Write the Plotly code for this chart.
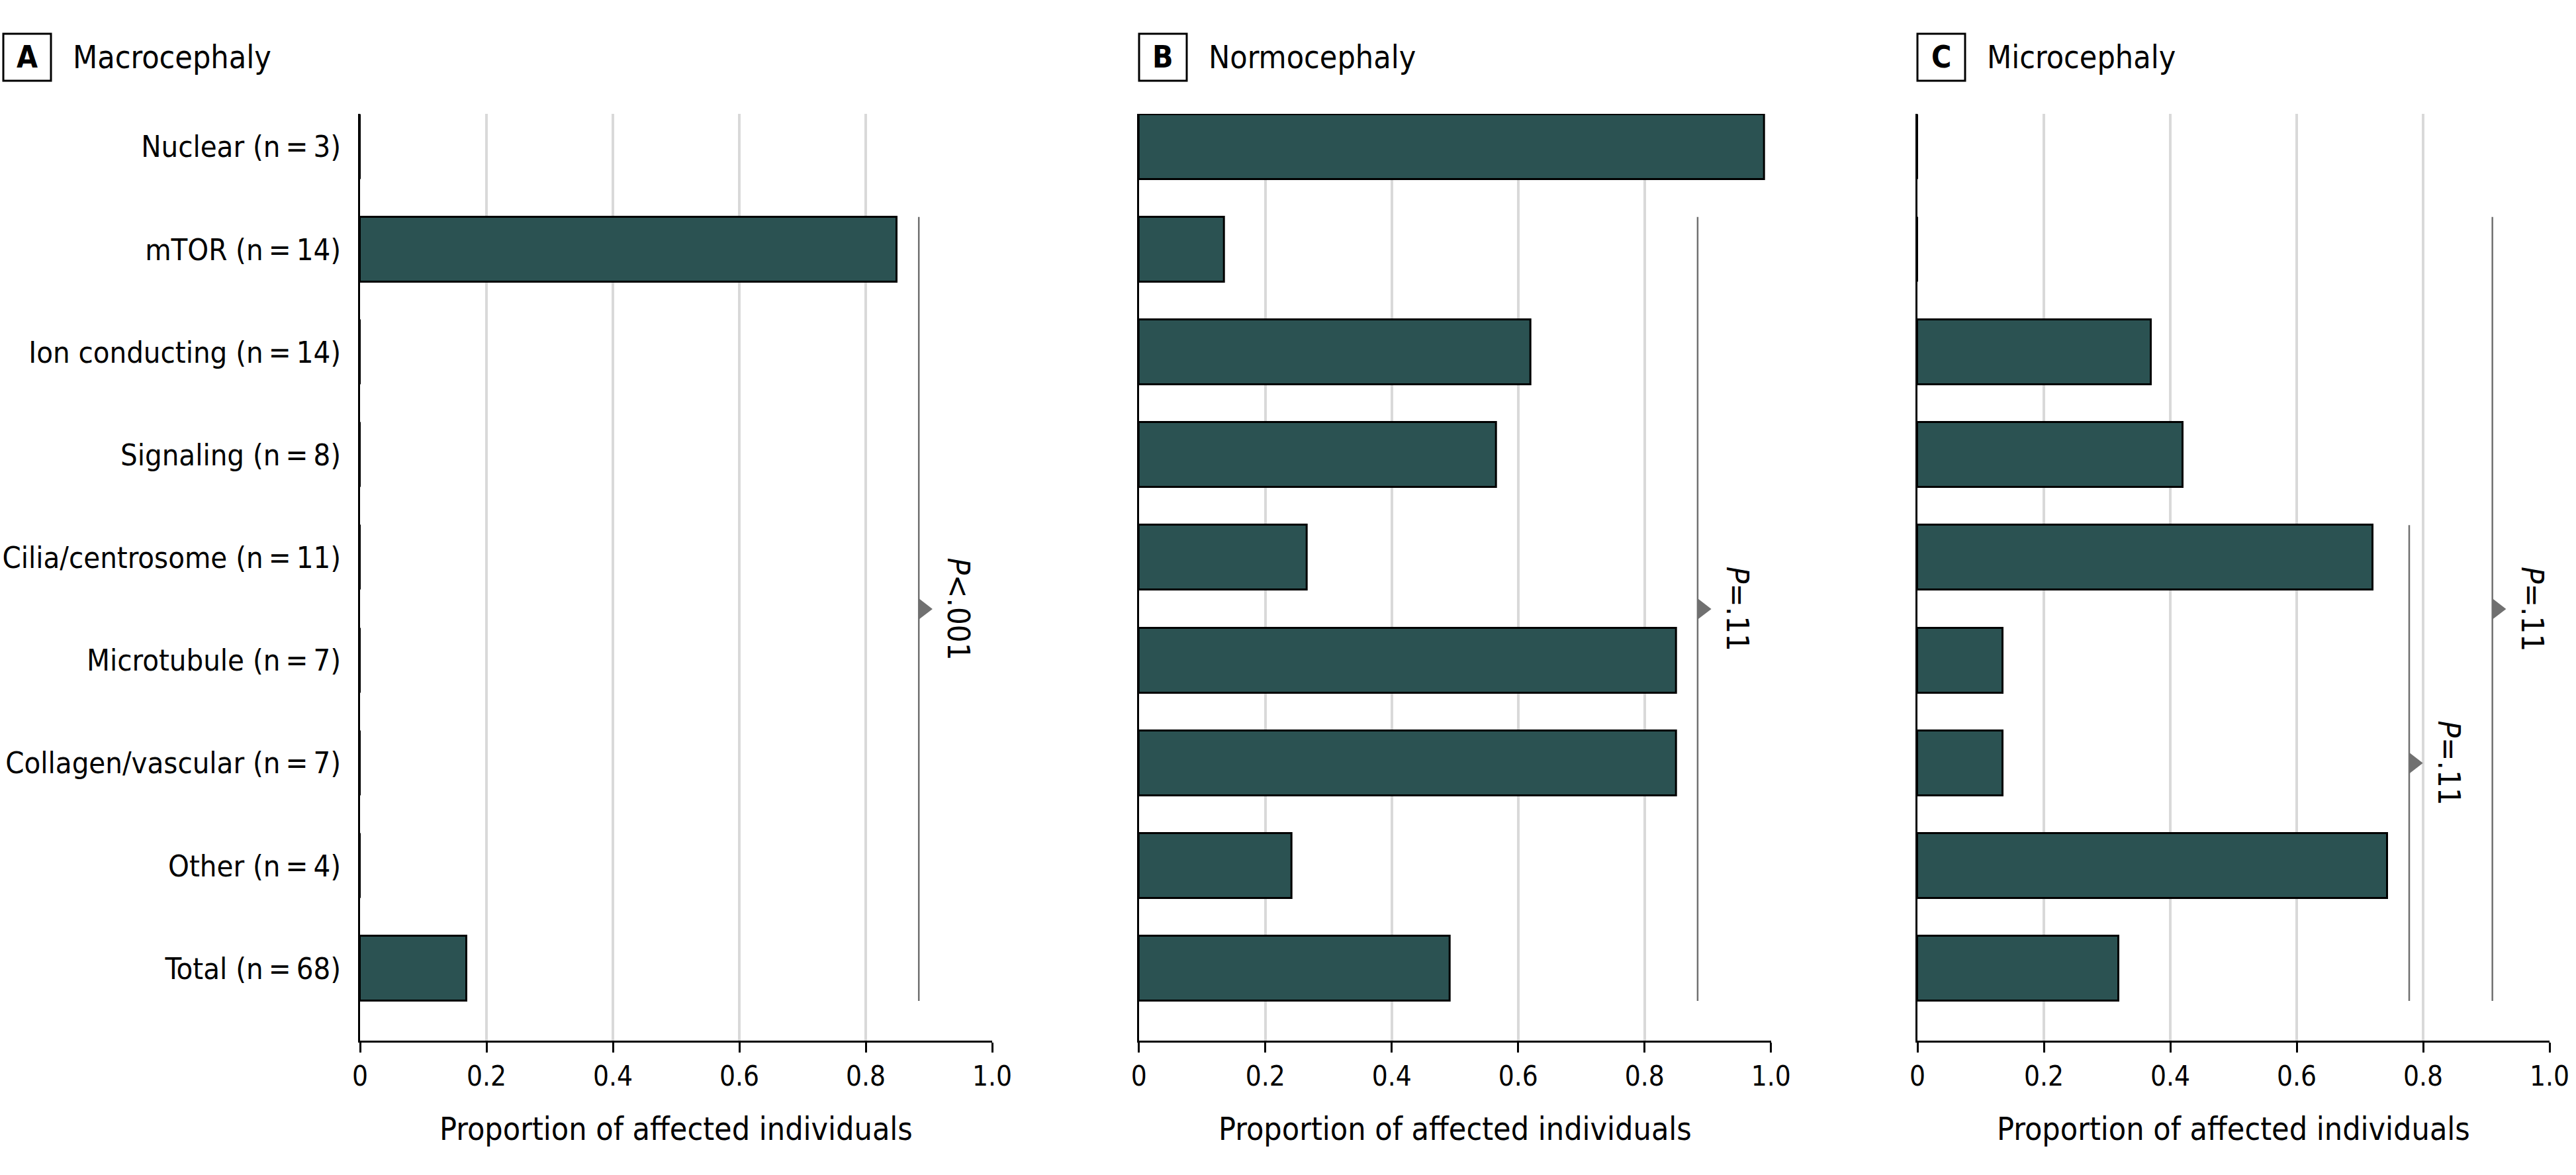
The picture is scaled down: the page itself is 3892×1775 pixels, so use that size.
import plotly.graph_objects as go

# ---------------- data ----------------
categories = [
    "Nuclear (n\u2009=\u20093)",
    "mTOR (n\u2009=\u200914)",
    "Ion conducting (n\u2009=\u200914)",
    "Signaling (n\u2009=\u20098)",
    "Cilia/centrosome (n\u2009=\u200911)",
    "Microtubule (n\u2009=\u20097)",
    "Collagen/vascular (n\u2009=\u20097)",
    "Other (n\u2009=\u20094)",
    "Total (n\u2009=\u200968)",
]
macrocephaly = [0, 0.849, 0, 0, 0, 0, 0, 0, 0.169]
normocephaly = [0.99, 0.135, 0.62, 0.565, 0.266, 0.85, 0.85, 0.242, 0.492]
microcephaly = [0, 0, 0.37, 0.42, 0.72, 0.135, 0.135, 0.743, 0.318]

panel_letters = ["A", "B", "C"]
panel_titles = ["Macrocephaly", "Normocephaly", "Microcephaly"]
panel_values = [macrocephaly, normocephaly, microcephaly]

x_tick_vals = [0, 0.2, 0.4, 0.6, 0.8, 1.0]
x_tick_text = ["0", "0.2", "0.4", "0.6", "0.8", "1.0"]
x_title = "Proportion of affected individuals"

# P-value brackets: panel index, x position, first row, last row, label
bracket_panel = [0, 1, 2, 2]
bracket_x = [0.884, 0.884, 0.9096, 0.778]
bracket_first = [1, 1, 1, 4]
bracket_last = [8, 8, 8, 8]
bracket_label = ["<i>P</i>&lt;.001", "<i>P</i>=.11", "<i>P</i>=.11", "<i>P</i>=.11"]

# ---------------- style ----------------
W, H = 3892, 1775
FONT = "DejaVu Sans Condensed, DejaVu Sans, sans-serif"
BAR_FILL = "#2b5252"
GRID = "#d9d9d9"
BRACKET = "#707070"
BAR_W = 0.632
HALF = BAR_W / 2

panel_px = [(544, 1499), (1720.7, 2675.7), (2897, 3852)]
plot_top_px, plot_bot_px = 172, 1571.7
box_px = [(5, 77), (1721, 1793), (2897, 2969)]
box_y_px = (51, 122)
title_y_px = 86
xtitle_y_px = 1705

ypos = list(range(len(categories)))

fig = go.Figure()
layout_axes = {}
for p in range(3):
    sfx = "" if p == 0 else str(p + 1)
    xa, ya = "x" + sfx, "y" + sfx
    fig.add_trace(go.Bar(
        x=panel_values[p], y=ypos, orientation="h", width=BAR_W,
        marker=dict(color=BAR_FILL, line=dict(color="black", width=3)),
        xaxis=xa, yaxis=ya, showlegend=False, hoverinfo="skip",
    ))
    x0, x1 = panel_px[p]
    layout_axes["xaxis" + sfx] = dict(
        domain=[x0 / W, x1 / W], range=[0, 1.0], anchor=ya,
        automargin=False,
        tickvals=x_tick_vals, ticktext=x_tick_text,
        showgrid=True, gridcolor=GRID, gridwidth=4,
        showline=True, linecolor="black", linewidth=3,
        ticks="outside", ticklen=15, tickwidth=3, tickcolor="black",
        tickfont=dict(family=FONT, size=42, color="black"),
        zeroline=False, fixedrange=True,
    )
    layout_axes["yaxis" + sfx] = dict(
        domain=[1 - plot_bot_px / H, 1 - plot_top_px / H],
        range=[len(categories) - 1 + 0.70, -0.32], anchor=xa,
        automargin=False,
        tickvals=ypos, ticktext=categories if p == 0 else [""] * len(categories),
        showticklabels=(p == 0), ticks="", ticklabelstandoff=17,
        showgrid=False, zeroline=False,
        showline=True, linecolor="black", linewidth=3,
        tickfont=dict(family=FONT, size=45, color="black"),
        fixedrange=True,
    )

shapes = []
annotations = []
for p in range(3):
    bx0, bx1 = box_px[p]
    shapes.append(dict(type="rect", xref="paper", yref="paper",
                       x0=bx0 / W, x1=bx1 / W,
                       y0=1 - box_y_px[1] / H, y1=1 - box_y_px[0] / H,
                       line=dict(color="black", width=3), fillcolor="white"))
    annotations.append(dict(xref="paper", yref="paper",
                            x=(bx0 + bx1) / 2 / W, y=1 - title_y_px / H,
                            text="<b>" + panel_letters[p] + "</b>", showarrow=False,
                            xanchor="center", yanchor="middle",
                            font=dict(family=FONT, size=46, color="black")))
    annotations.append(dict(xref="paper", yref="paper",
                            x=(bx1 + 31) / W, y=1 - title_y_px / H,
                            text=panel_titles[p], showarrow=False,
                            xanchor="left", yanchor="middle",
                            font=dict(family=FONT, size=48, color="black")))
    x0, x1 = panel_px[p]
    annotations.append(dict(xref="paper", yref="paper",
                            x=(x0 + x1) / 2 / W, y=1 - xtitle_y_px / H,
                            text=x_title, showarrow=False,
                            xanchor="center", yanchor="middle",
                            font=dict(family=FONT, size=48, color="black")))

for i in range(len(bracket_x)):
    p = bracket_panel[i]
    sfx = "" if p == 0 else str(p + 1)
    yt = bracket_first[i] - HALF
    yb = bracket_last[i] + HALF
    ymid = (yt + yb) / 2
    shapes.append(dict(type="line", xref="x" + sfx, yref="y" + sfx,
                       x0=bracket_x[i], x1=bracket_x[i], y0=yt, y1=yb,
                       line=dict(color=BRACKET, width=2.5)))
    fig.add_trace(go.Scatter(
        x=[bracket_x[i] + 0.007], y=[ymid], mode="markers",
        marker=dict(symbol="triangle-right", size=28, color=BRACKET, line=dict(width=0)),
        xaxis="x" + sfx, yaxis="y" + sfx, showlegend=False, hoverinfo="skip",
        cliponaxis=False,
    ))
    annotations.append(dict(xref="x" + sfx, yref="y" + sfx,
                            x=bracket_x[i] + 0.063, y=ymid,
                            text=bracket_label[i], showarrow=False, textangle=90,
                            xanchor="center", yanchor="middle",
                            font=dict(family=FONT, size=47, color="black")))

fig.update_layout(
    width=W, height=H,
    margin=dict(l=0, r=0, t=0, b=0, autoexpand=False),
    paper_bgcolor="white", plot_bgcolor="white",
    bargap=0, barmode="overlay",
    shapes=shapes, annotations=annotations,
    **layout_axes,
)

fig.write_html("out.html",
               config={"displayModeBar": False},
               post_script="document.body.style.margin='0px';document.body.style.overflow='hidden';")
